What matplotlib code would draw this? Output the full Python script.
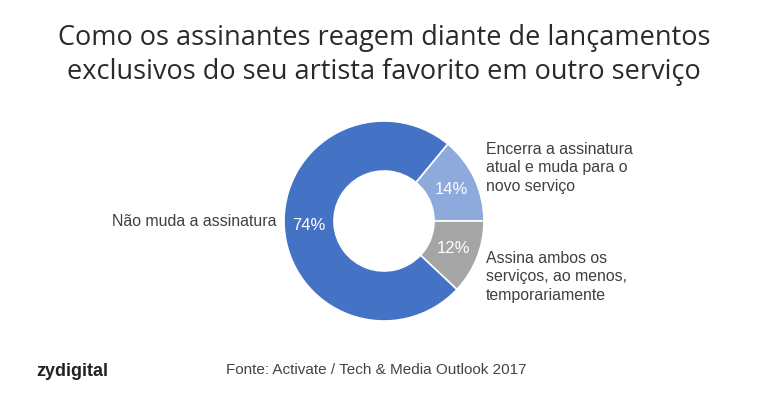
import matplotlib
matplotlib.use("Agg")
import matplotlib.pyplot as plt
import numpy as np

# Data
categories = [
    "Encerra a assinatura\natual e muda para o\nnovo serviço",
    "Assina ambos os\nserviços, ao menos,\ntemporariamente",
    "Não muda a assinatura",
]
shares = [14, 12, 74]
colors = ["#8EA9DB", "#A5A5A5", "#4472C4"]

title = "Como os assinantes reagem diante de lançamentos\nexclusivos do seu artista favorito em outro serviço"
source = "Fonte: Activate / Tech & Media Outlook 2017"
brand = "zydigital"

W, H = 768, 400
fig = plt.figure(figsize=(W / 100, H / 100), dpi=100)
fig.patch.set_facecolor("white")


def px(x, y):
    """pixel coords (top-left origin) -> figure fraction"""
    return x / W, 1 - y / H


# donut: centre (384, 221), radius ~100 px, hole ~50 px
cx, cy, r = 384, 221, 100
ax = fig.add_axes([(cx - r) / W, 1 - (cy + r) / H, 2 * r / W, 2 * r / H])
wedges, _ = ax.pie(
    shares, colors=colors, startangle=360 * shares[0] / 100, counterclock=False,
    radius=1, wedgeprops=dict(width=0.5, edgecolor="white", linewidth=1.2),
)
ax.set_xlim(-1, 1)
ax.set_ylim(-1, 1)
ax.set_aspect("equal")
ax.axis("off")

# percent labels inside the ring
for w, v in zip(wedges, shares):
    ang = np.deg2rad((w.theta1 + w.theta2) / 2)
    rr = 0.75
    ax.text(rr * np.cos(ang), rr * np.sin(ang), f"{v}%", ha="center", va="center",
            color="white", fontsize=12, family="Liberation Sans")

# category labels
lab_font = dict(fontsize=11.4, family="Liberation Sans", color="#404040", linespacing=1.3)
fig.text(*px(276, 221), categories[2], ha="right", va="center", **lab_font)
fig.text(*px(486, 168), categories[0], ha="left", va="center", **lab_font)
fig.text(*px(486, 277), categories[1], ha="left", va="center", **lab_font)

# title
fig.text(*px(384, 55), title, ha="center", va="center", fontsize=19.5,
         family="Open Sans", color="#2a2a2a", linespacing=1.32)

# footer
fig.text(*px(36, 371), brand, ha="left", va="center", fontsize=13,
         family="Liberation Sans", weight="bold", color="#222222")
fig.text(*px(226, 370), source, ha="left", va="center", fontsize=11,
         family="Liberation Sans", color="#444444")

fig.savefig("out.png", dpi=100, facecolor="white")
